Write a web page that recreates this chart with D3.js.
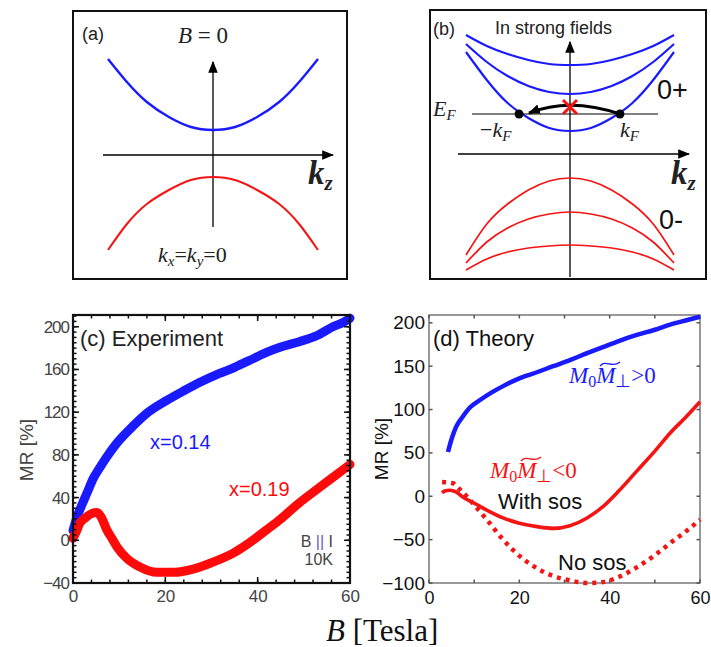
<!DOCTYPE html>
<html>
<head>
<meta charset="utf-8">
<script src="https://cdn.jsdelivr.net/npm/d3@7"></script>
<style>
  body { margin: 0; background: #fff; }
  svg { display: block; }
</style>
</head>
<body>
<div id="chart"></div>
<script>
//-------------------------------------------------------
// data
//-------------------------------------------------------
// (a) schematic bands at B = 0 (k in [-1,1], E in band units)
const kA = [-1, -0.82, -0.63, -0.42, -0.21, 0, 0.21, 0.42, 0.63, 0.82, 1];
const bandUpA = [0.96, 0.73, 0.53, 0.38, 0.28, 0.25, 0.28, 0.38, 0.53, 0.73, 0.96];
const bandLowA = [-0.95, -0.69, -0.49, -0.35, -0.25, -0.22, -0.25, -0.35, -0.49, -0.69, -0.95];

// (b) Landau bands in strong fields
const kB = [-1, -0.8, -0.6, -0.4, -0.2, 0, 0.2, 0.4, 0.6, 0.8, 1];
const blueTopB = [1.19, 1.08, 1.00, 0.94, 0.90, 0.89, 0.90, 0.94, 1.00, 1.08, 1.19];
const blueMidB = [1.10, 0.92, 0.78, 0.68, 0.62, 0.60, 0.62, 0.68, 0.78, 0.92, 1.10];
const blueBotB = [1.02, 0.74, 0.51, 0.36, 0.26, 0.23, 0.26, 0.36, 0.51, 0.74, 1.02];
const redTopB = [-1.01, -0.70, -0.50, -0.36, -0.27, -0.24, -0.27, -0.36, -0.50, -0.70, -1.01];
const redMidB = [-1.09, -0.88, -0.74, -0.65, -0.60, -0.58, -0.60, -0.65, -0.74, -0.88, -1.09];
const redBotB = [-1.16, -1.05, -0.98, -0.94, -0.92, -0.91, -0.92, -0.94, -0.98, -1.05, -1.16];
const fermiE = 0.40;
const fermiK = [-0.49, 0.48];

// (c) experiment, MR [%] vs B [T]
const bExp014 = [0, 0.9, 2, 3, 4.4, 5.8, 7.3, 9.5, 13, 16, 20.3, 24, 27.5, 31, 34, 35.5, 38, 41.9, 45, 49, 53, 56.3, 58.5, 60];
const mrExp014 = [9, 22, 34, 44, 58, 68, 78, 91, 107, 119, 131, 140, 148, 155, 160, 163, 168, 176, 181, 186, 192, 200, 204, 208];
const bExp019 = [0, 0.7, 1.5, 3, 4, 5.2, 6.2, 7.3, 8.4, 9.5, 11.7, 14.5, 18.2, 22, 26, 30, 34.7, 38, 42, 45, 49, 52, 56.3, 60];
const mrExp019 = [2, 8, 16, 22, 25, 26, 21, 10, 2, -6, -17, -25, -30, -30, -27, -21, -12, -3, 10, 20, 35, 45, 59, 71];

// (d) theory
const bThPos = [4.2, 5, 6, 7.5, 9, 11.3, 14, 16.4, 20, 23.9, 27.5, 31.2, 35, 38.5, 42, 46, 50, 53.4, 57, 60];
const mrThPos = [51, 66, 80, 92, 102, 111, 120, 127, 136, 143, 150, 157, 165, 172, 179, 186, 192, 198, 203, 207];
const bThSos = [2.9, 3.5, 4.6, 6, 7.5, 10, 12.8, 16.4, 20, 23.9, 27.5, 31.2, 35, 38.5, 42, 46, 50, 53.4, 57, 60];
const mrThSos = [4, 6, 7, 5, -1, -8, -16, -25, -31, -35, -37, -34, -25, -12, 6, 29, 52, 73, 92, 109];
const bThNoSos = [2.9, 5.3, 7, 9, 12.8, 16.4, 20.1, 23.9, 27.5, 31.2, 35, 38.5, 42, 46, 50, 53.4, 57, 60];
const mrThNoSos = [16.5, 15, 7, -4, -27, -50, -69, -83, -92, -97, -100, -99, -93, -82, -68, -54, -40, -27];

const xTicks = [0, 20, 40, 60];
const yTicksC = [-40, 0, 40, 80, 120, 160, 200];
const yTicksD = [-100, -50, 0, 50, 100, 150, 200];

//-------------------------------------------------------
const color = { blue: "#1a1aff", red: "#f41414", black: "#000", grey: "#333" };
const sans = "'Liberation Sans', Arial, sans-serif";
const serif = "'Liberation Serif', 'Times New Roman', serif";

const svg = d3.select("#chart").append("svg")
    .attr("width", 711).attr("height", 647);

const zip = (xs, ys) => xs.map((x, i) => [x, ys[i]]);

svg.append("defs").append("marker")
    .attr("id", "head").attr("viewBox", "0 0 10 10")
    .attr("refX", 9).attr("refY", 5)
    .attr("markerWidth", 12).attr("markerHeight", 12)
    .attr("markerUnits", "userSpaceOnUse")
    .attr("orient", "auto")
    .append("path").attr("d", "M0,1 L10,5 L0,9 Z").attr("fill", "#000");

//-------------------------------------------------------
// panel (a)
//-------------------------------------------------------
const pa = svg.append("g");
const kxA = d3.scaleLinear().domain([-1, 1]).range([108, 318]);
const eyA = d3.scaleLinear().domain([-1, 1]).range([255, 55]);
const lineA = d3.line().x(d => kxA(d[0])).y(d => eyA(d[1])).curve(d3.curveNatural);

pa.append("rect").attr("x", 73).attr("y", 11).attr("width", 274).attr("height", 268)
    .attr("fill", "none").attr("stroke", "#111").attr("stroke-width", 2);
pa.append("line").attr("x1", kxA(0)).attr("y1", 227).attr("x2", kxA(0)).attr("y2", 62)
    .attr("stroke", "#000").attr("stroke-width", 1.3).attr("marker-end", "url(#head)");
pa.append("line").attr("x1", 103).attr("y1", eyA(0)).attr("x2", 333).attr("y2", eyA(0))
    .attr("stroke", "#000").attr("stroke-width", 1.3).attr("marker-end", "url(#head)");
pa.append("path").attr("d", lineA(zip(kA, bandUpA)))
    .attr("fill", "none").attr("stroke", color.blue).attr("stroke-width", 2.4);
pa.append("path").attr("d", lineA(zip(kA, bandLowA)))
    .attr("fill", "none").attr("stroke", color.red).attr("stroke-width", 2);

pa.append("text").attr("x", 82).attr("y", 40).attr("font-family", sans).attr("font-size", 18)
    .attr("fill", "#222").text("(a)");
const tB0 = pa.append("text").attr("x", 178).attr("y", 43).attr("font-family", serif).attr("font-size", 23).attr("fill", "#222");
tB0.append("tspan").attr("font-style", "italic").text("B");
tB0.append("tspan").text(" = 0");
const tkz = pa.append("text").attr("x", 308).attr("y", 184).attr("font-family", serif).attr("font-size", 33)
    .attr("font-style", "italic").attr("font-weight", "bold").attr("fill", "#222");
tkz.append("tspan").text("k");
tkz.append("tspan").attr("font-size", 21).attr("dy", 6).text("z");
const tkk = pa.append("text").attr("x", 158).attr("y", 262).attr("font-family", serif).attr("font-size", 22).attr("fill", "#222");
tkk.append("tspan").attr("font-style", "italic").text("k");
tkk.append("tspan").attr("font-style", "italic").attr("font-size", 15).attr("dy", 4).text("x");
tkk.append("tspan").attr("dy", -4).text("=");
tkk.append("tspan").attr("font-style", "italic").text("k");
tkk.append("tspan").attr("font-style", "italic").attr("font-size", 15).attr("dy", 4).text("y");
tkk.append("tspan").attr("dy", -4).text("=0");

//-------------------------------------------------------
// panel (b)
//-------------------------------------------------------
const pb = svg.append("g");
const kxB = d3.scaleLinear().domain([-1, 1]).range([466, 674]);
const eyB = d3.scaleLinear().domain([-1, 1]).range([254, 54]);
const lineB = d3.line().x(d => kxB(d[0])).y(d => eyB(d[1])).curve(d3.curveNatural);

pb.append("rect").attr("x", 430).attr("y", 10).attr("width", 276).attr("height", 269)
    .attr("fill", "none").attr("stroke", "#111").attr("stroke-width", 2);
pb.append("line").attr("x1", kxB(0)).attr("y1", 277).attr("x2", kxB(0)).attr("y2", 42)
    .attr("stroke", "#000").attr("stroke-width", 1.3).attr("marker-end", "url(#head)");
pb.append("line").attr("x1", 458).attr("y1", eyB(0)).attr("x2", 689).attr("y2", eyB(0))
    .attr("stroke", "#000").attr("stroke-width", 1.3).attr("marker-end", "url(#head)");
pb.append("line").attr("x1", 472).attr("x2", 658).attr("y1", eyB(fermiE)).attr("y2", eyB(fermiE))
    .attr("stroke", "#000").attr("stroke-width", 1);

[blueTopB, blueMidB, blueBotB].forEach(band => {
    pb.append("path").attr("d", lineB(zip(kB, band)))
        .attr("fill", "none").attr("stroke", color.blue).attr("stroke-width", 2.2);
});
[redTopB, redMidB, redBotB].forEach(band => {
    pb.append("path").attr("d", lineB(zip(kB, band)))
        .attr("fill", "none").attr("stroke", color.red).attr("stroke-width", 1.7);
});

// scattering arc from kF to -kF (blocked)
const yF = eyB(fermiE);
pb.append("path")
    .attr("d", `M${kxB(fermiK[1])},${yF} Q${kxB(0)},${yF - 17} ${kxB(fermiK[0]) + 10},${yF - 1}`)
    .attr("fill", "none").attr("stroke", "#000").attr("stroke-width", 3)
    .attr("marker-end", "url(#head)");
pb.selectAll("circle.kf").data(fermiK).enter().append("circle")
    .attr("cx", d => kxB(d)).attr("cy", yF).attr("r", 4.5).attr("fill", "#000");
const xc = kxB(0), yc = yF - 7;
pb.append("path").attr("d", `M${xc - 7},${yc - 7} L${xc + 7},${yc + 7} M${xc - 7},${yc + 7} L${xc + 7},${yc - 7}`)
    .attr("stroke", color.red).attr("stroke-width", 3);

pb.append("text").attr("x", 433).attr("y", 35).attr("font-family", sans).attr("font-size", 18)
    .attr("fill", "#222").text("(b)");
pb.append("text").attr("x", 495).attr("y", 34).attr("font-family", sans).attr("font-size", 18)
    .attr("fill", "#222").text("In strong fields");
pb.append("text").attr("x", 657).attr("y", 99).attr("font-family", sans).attr("font-size", 27)
    .attr("fill", "#111").text("0+");
pb.append("text").attr("x", 659).attr("y", 229).attr("font-family", sans).attr("font-size", 27)
    .attr("fill", "#111").text("0-");
const tEF = pb.append("text").attr("x", 433).attr("y", 116).attr("font-family", serif).attr("font-size", 22)
    .attr("font-style", "italic").attr("fill", "#222");
tEF.append("tspan").text("E");
tEF.append("tspan").attr("font-size", 15).attr("dy", 4).text("F");
const tmk = pb.append("text").attr("x", 480).attr("y", 137).attr("font-family", serif).attr("font-size", 22).attr("fill", "#222");
tmk.append("tspan").text("\u2212");
tmk.append("tspan").attr("font-style", "italic").text("k");
tmk.append("tspan").attr("font-style", "italic").attr("font-size", 15).attr("dy", 4).text("F");
const tpk = pb.append("text").attr("x", 620).attr("y", 137).attr("font-family", serif).attr("font-size", 22)
    .attr("font-style", "italic").attr("fill", "#222");
tpk.append("tspan").text("k");
tpk.append("tspan").attr("font-size", 15).attr("dy", 4).text("F");
const tkzb = pb.append("text").attr("x", 671).attr("y", 184).attr("font-family", serif).attr("font-size", 33)
    .attr("font-style", "italic").attr("font-weight", "bold").attr("fill", "#222");
tkzb.append("tspan").text("k");
tkzb.append("tspan").attr("font-size", 21).attr("dy", 6).text("z");

//-------------------------------------------------------
// panel (c) experiment
//-------------------------------------------------------
const pc = svg.append("g");
const xC = d3.scaleLinear().domain([0, 60]).range([73, 350]);
const yC = d3.scaleLinear().domain([-40, 211]).range([583, 315]);
const lineC = d3.line().x(d => xC(d[0])).y(d => yC(d[1])).curve(d3.curveMonotoneX);

pc.append("path").attr("d", lineC(zip(bExp014, mrExp014)))
    .attr("fill", "none").attr("stroke", color.blue).attr("stroke-width", 9)
    .attr("stroke-linecap", "round").attr("stroke-linejoin", "round");
pc.append("path").attr("d", lineC(zip(bExp019, mrExp019)))
    .attr("fill", "none").attr("stroke", "#ff0a0a").attr("stroke-width", 9)
    .attr("stroke-linecap", "round").attr("stroke-linejoin", "round");

function boxTicks(g, xs, ys, xVals, yVals, len, stroke) {
    const [x0, x1] = xs.range(), [y0, y1] = ys.range();
    xVals.forEach(v => {
        g.append("line").attr("x1", xs(v)).attr("x2", xs(v)).attr("y1", y0).attr("y2", y0 - len).attr("stroke", stroke).attr("stroke-width", 1.5);
        g.append("line").attr("x1", xs(v)).attr("x2", xs(v)).attr("y1", y1).attr("y2", y1 + len).attr("stroke", stroke).attr("stroke-width", 1.5);
    });
    yVals.forEach(v => {
        g.append("line").attr("y1", ys(v)).attr("y2", ys(v)).attr("x1", x0).attr("x2", x0 + len).attr("stroke", stroke).attr("stroke-width", 1.5);
        g.append("line").attr("y1", ys(v)).attr("y2", ys(v)).attr("x1", x1).attr("x2", x1 - len).attr("stroke", stroke).attr("stroke-width", 1.5);
    });
}
boxTicks(pc, xC, yC, d3.range(0, 61, 4), d3.range(-40, 211, 5), 3.5, "#111");
boxTicks(pc, xC, yC, xTicks, yTicksC, 6, "#111");
pc.append("rect").attr("x", 73).attr("y", 315).attr("width", 277).attr("height", 268)
    .attr("fill", "none").attr("stroke", "#111").attr("stroke-width", 2.2);

pc.append("g").attr("transform", "translate(0,583)")
    .call(d3.axisBottom(xC).tickValues(xTicks).tickSize(0).tickPadding(7))
    .call(g => g.select(".domain").remove())
    .selectAll("text").attr("font-family", sans).attr("font-size", 17).attr("fill", "#444");
pc.append("g").attr("transform", "translate(73,0)")
    .call(d3.axisLeft(yC).tickValues(yTicksC).tickSize(0).tickPadding(4))
    .call(g => g.select(".domain").remove())
    .selectAll("text").attr("font-family", sans).attr("font-size", 17).attr("fill", "#444")
    .attr("letter-spacing", -1);
pc.append("text").attr("transform", "translate(33,450) rotate(-90)").attr("text-anchor", "middle")
    .attr("font-family", sans).attr("font-size", 19).attr("fill", "#444").text("MR [%]");

pc.append("text").attr("x", 80).attr("y", 346).attr("font-family", sans).attr("font-size", 22)
    .attr("fill", "#222").text("(c)  Experiment");
pc.append("text").attr("x", 150).attr("y", 449).attr("font-family", sans).attr("font-size", 20)
    .attr("fill", color.blue).text("x=0.14");
pc.append("text").attr("x", 229).attr("y", 496).attr("font-family", sans).attr("font-size", 20)
    .attr("fill", "#ff0a0a").text("x=0.19");
const tBI = pc.append("text").attr("x", 333).attr("y", 547).attr("text-anchor", "end")
    .attr("font-family", sans).attr("font-size", 16).attr("fill", "#444");
tBI.append("tspan").text("B ");
tBI.append("tspan").attr("fill", "#6a5fb0").text("||");
tBI.append("tspan").text(" I");
pc.append("text").attr("x", 333).attr("y", 565).attr("text-anchor", "end")
    .attr("font-family", sans).attr("font-size", 16).attr("fill", "#444").text("10K");

//-------------------------------------------------------
// panel (d) theory
//-------------------------------------------------------
const pd = svg.append("g");
const xD = d3.scaleLinear().domain([0, 60]).range([429, 700]);
const yD = d3.scaleLinear().domain([-100, 209]).range([583, 315]);
const lineD = d3.line().x(d => xD(d[0])).y(d => yD(d[1])).curve(d3.curveMonotoneX);

pd.append("rect").attr("x", 429).attr("y", 315).attr("width", 271).attr("height", 268)
    .attr("fill", "none").attr("stroke", "#555").attr("stroke-width", 1.2);
boxTicks(pd, xD, yD, d3.range(0, 61, 10), yTicksD, 3.5, "#555");

pd.append("path").attr("d", lineD(zip(bThNoSos, mrThNoSos)))
    .attr("fill", "none").attr("stroke", color.red).attr("stroke-width", 4.5)
    .attr("stroke-dasharray", "4,5");
pd.append("path").attr("d", lineD(zip(bThSos, mrThSos)))
    .attr("fill", "none").attr("stroke", color.red).attr("stroke-width", 3.6);
pd.append("path").attr("d", lineD(zip(bThPos, mrThPos)))
    .attr("fill", "none").attr("stroke", color.blue).attr("stroke-width", 4.5);

pd.append("g").attr("transform", "translate(0,583)")
    .call(d3.axisBottom(xD).tickValues(xTicks).tickSize(0).tickPadding(8))
    .call(g => g.select(".domain").remove())
    .selectAll("text").attr("font-family", sans).attr("font-size", 18).attr("fill", "#111");
pd.append("g").attr("transform", "translate(429,0)")
    .call(d3.axisLeft(yD).tickValues(yTicksD).tickSize(0).tickPadding(4))
    .call(g => g.select(".domain").remove())
    .selectAll("text").attr("font-family", sans).attr("font-size", 19).attr("fill", "#111");
pd.append("text").attr("transform", "translate(388,449) rotate(-90)").attr("text-anchor", "middle")
    .attr("font-family", sans).attr("font-size", 19).attr("fill", "#111").text("MR [%]");

pd.append("text").attr("x", 433).attr("y", 346).attr("font-family", sans).attr("font-size", 22)
    .attr("fill", "#111").text("(d)  Theory");

function mLabel(x, y, sign, fill) {
    const t = pd.append("text").attr("x", x).attr("y", y).attr("font-family", serif)
        .attr("font-size", 23).attr("fill", fill);
    t.append("tspan").attr("font-style", "italic").text("M");
    t.append("tspan").attr("font-size", 16).attr("dy", 4).text("0");
    t.append("tspan").attr("font-style", "italic").attr("dy", -4).text("M");
    t.append("tspan").attr("font-size", 18).attr("dy", 4).text("\u22a5");
    t.append("tspan").attr("dy", -4).text(sign + "0");
    // wide tilde above the second M
    const tx = x + 31, ty = y - 20;
    pd.append("path").attr("d", `M${tx},${ty + 3} C${tx + 6},${ty - 4} ${tx + 12},${ty + 6} ${tx + 20},${ty - 1}`)
        .attr("fill", "none").attr("stroke", fill).attr("stroke-width", 1.3);
}
mLabel(569, 383, ">", color.blue);
mLabel(490, 478, "<", color.red);
pd.append("text").attr("x", 498).attr("y", 509).attr("font-family", sans).attr("font-size", 22)
    .attr("fill", "#111").text("With sos");
pd.append("text").attr("x", 558).attr("y", 570).attr("font-family", sans).attr("font-size", 22)
    .attr("fill", "#111").text("No sos");

//-------------------------------------------------------
// shared x label
//-------------------------------------------------------
const tX = svg.append("text").attr("x", 326).attr("y", 641).attr("font-family", serif)
    .attr("font-size", 31).attr("fill", "#111");
tX.append("tspan").attr("font-style", "italic").text("B");
tX.append("tspan").text("  [Tesla]");
</script>
</body>
</html>
